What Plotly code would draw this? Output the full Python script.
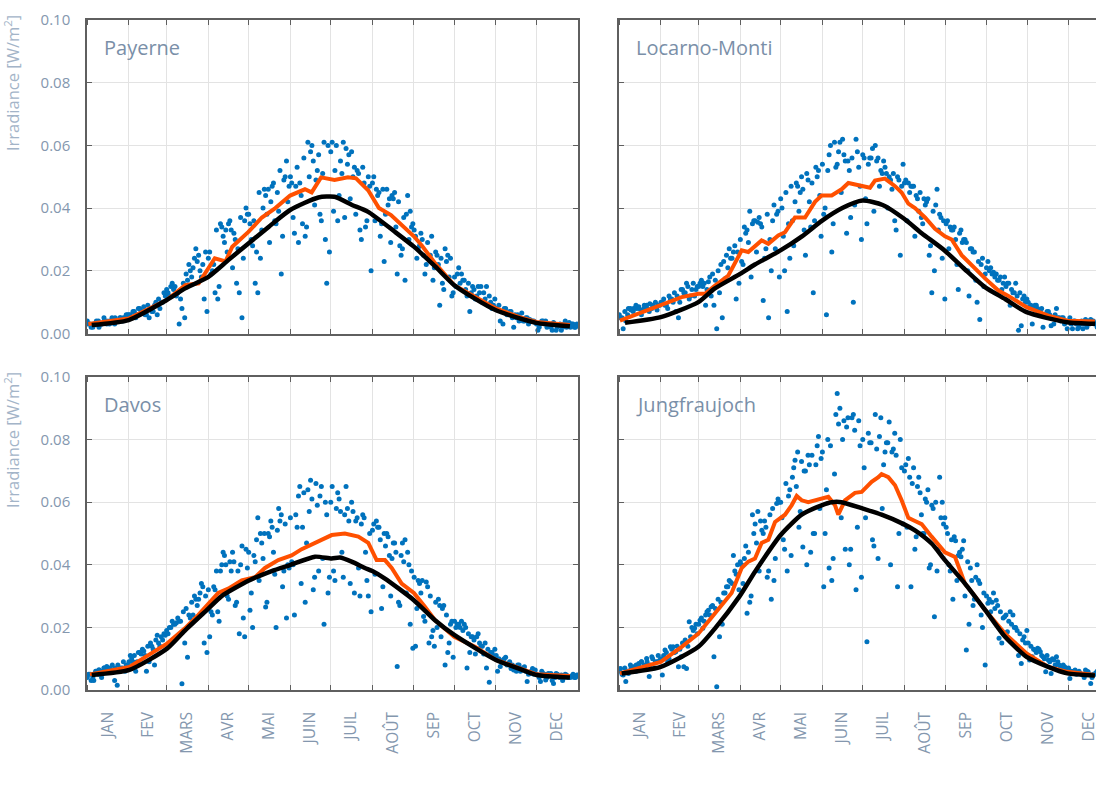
import plotly.graph_objects as go

# ---------------- data ----------------
MONTHS = ["JAN", "FEV", "MARS", "AVR", "MAI", "JUIN", "JUIL", "AOÛT", "SEP", "OCT", "NOV", "DEC"]
MONTH_DAYS = [31, 28, 31, 30, 31, 30, 31, 31, 30, 31, 30, 31]
STATIONS = ["Payerne", "Locarno-Monti", "Davos", "Jungfraujoch"]

# daily irradiance dots, grouped by month (W/m2) - two interleaved sets per station
PAY_DOTS = [
    [0.003, 0.002, 0.003, 0.004, 0.002, 0.003, 0.004, 0.003, 0.004, 0.005, 0.003, 0.004, 0.005, 0.004, 0.005, 0.006],
    [0.006, 0.007, 0.005, 0.008, 0.007, 0.0085, 0.006, 0.005, 0.007, 0.009, 0.006, 0.008, 0.010, 0.012],
    [0.013, 0.015, 0.014, 0.012, 0.003, 0.008, 0.005, 0.017, 0.020, 0.021, 0.027, 0.025, 0.018, 0.011, 0.007],
    [0.026, 0.020, 0.013, 0.011, 0.035, 0.031, 0.033, 0.035, 0.033, 0.032, 0.016, 0.013, 0.005, 0.036, 0.038],
    [0.035, 0.028, 0.016, 0.013, 0.024, 0.040, 0.044, 0.046, 0.042, 0.048, 0.035, 0.039, 0.019, 0.049, 0.055, 0.047],
    [0.048, 0.032, 0.053, 0.048, 0.035, 0.031, 0.061, 0.058, 0.055, 0.049, 0.057, 0.036, 0.061, 0.016, 0.026],
    [0.061, 0.052, 0.036, 0.055, 0.061, 0.059, 0.057, 0.058, 0.053, 0.052, 0.033, 0.053, 0.034, 0.050, 0.020],
    [0.050, 0.046, 0.045, 0.035, 0.023, 0.046, 0.043, 0.044, 0.045, 0.019, 0.028, 0.027, 0.017, 0.044, 0.039, 0.035],
    [0.031, 0.027, 0.032, 0.025, 0.022, 0.024, 0.031, 0.021, 0.025, 0.009, 0.016, 0.027, 0.025, 0.024, 0.013],
    [0.015, 0.021, 0.019, 0.017, 0.012, 0.007, 0.015, 0.011, 0.015, 0.015, 0.013, 0.015, 0.012, 0.008, 0.011],
    [0.0075, 0.004, 0.003, 0.008, 0.0065, 0.007, 0.002, 0.005, 0.004, 0.0065, 0.004, 0.005, 0.0045, 0.004, 0.0035],
    [0.001, 0.003, 0.004, 0.004, 0.003, 0.002, 0.0035, 0.001, 0.0025, 0.001, 0.003, 0.002, 0.0035, 0.003, 0.002, 0.003],
]
PAY_DOTS_B = [
    [0.004, 0.003, 0.002, 0.003, 0.004, 0.003, 0.005, 0.004, 0.003, 0.004, 0.005, 0.004, 0.005, 0.005, 0.006],
    [0.006, 0.005, 0.007, 0.006, 0.008, 0.007, 0.006, 0.009, 0.008, 0.007, 0.010, 0.011, 0.010, 0.013],
    [0.014, 0.012, 0.016, 0.015, 0.013, 0.011, 0.016, 0.019, 0.022, 0.018, 0.024, 0.023, 0.020, 0.022, 0.026],
    [0.024, 0.019, 0.022, 0.033, 0.015, 0.034, 0.029, 0.026, 0.036, 0.021, 0.030, 0.027, 0.037, 0.024, 0.040],
    [0.038, 0.030, 0.036, 0.026, 0.045, 0.033, 0.046, 0.038, 0.029, 0.047, 0.036, 0.045, 0.052, 0.031, 0.050, 0.042],
    [0.050, 0.037, 0.047, 0.029, 0.044, 0.056, 0.034, 0.050, 0.060, 0.041, 0.052, 0.038, 0.051, 0.030, 0.060],
    [0.058, 0.039, 0.060, 0.044, 0.051, 0.037, 0.054, 0.043, 0.050, 0.038, 0.051, 0.030, 0.048, 0.036, 0.047],
    [0.048, 0.036, 0.044, 0.031, 0.046, 0.038, 0.041, 0.029, 0.043, 0.034, 0.042, 0.025, 0.037, 0.038, 0.030, 0.034],
    [0.033, 0.024, 0.028, 0.030, 0.019, 0.029, 0.025, 0.017, 0.026, 0.022, 0.024, 0.014, 0.023, 0.018, 0.012],
    [0.018, 0.019, 0.016, 0.017, 0.014, 0.016, 0.013, 0.014, 0.012, 0.013, 0.010, 0.011, 0.009, 0.010, 0.009],
    [0.008, 0.009, 0.007, 0.008, 0.006, 0.007, 0.005, 0.006, 0.006, 0.005, 0.004, 0.005, 0.003, 0.004, 0.004],
    [0.003, 0.002, 0.004, 0.003, 0.002, 0.003, 0.001, 0.003, 0.002, 0.003, 0.002, 0.004, 0.003, 0.002, 0.003, 0.002],
]
LOC_DOTS = [
    [0.005, 0.0015, 0.004, 0.008, 0.0075, 0.008, 0.008, 0.0085, 0.006, 0.008, 0.009, 0.007, 0.008, 0.0085, 0.0075, 0.009],
    [0.010, 0.009, 0.008, 0.011, 0.010, 0.007, 0.005, 0.014, 0.013, 0.016, 0.011, 0.014, 0.012, 0.015],
    [0.016, 0.015, 0.009, 0.0165, 0.012, 0.009, 0.0015, 0.013, 0.005, 0.0175, 0.021, 0.024, 0.026, 0.011, 0.016],
    [0.023, 0.034, 0.033, 0.039, 0.035, 0.036, 0.0355, 0.035, 0.0105, 0.027, 0.005, 0.020, 0.041, 0.038, 0.018],
    [0.040, 0.020, 0.007, 0.024, 0.036, 0.042, 0.047, 0.045, 0.046, 0.025, 0.049, 0.034, 0.013, 0.053, 0.052, 0.031],
    [0.038, 0.006, 0.057, 0.026, 0.061, 0.054, 0.061, 0.062, 0.055, 0.055, 0.037, 0.010, 0.062, 0.053, 0.030],
    [0.056, 0.035, 0.056, 0.059, 0.060, 0.056, 0.052, 0.055, 0.051, 0.050, 0.046, 0.036, 0.050, 0.025, 0.054],
    [0.049, 0.048, 0.047, 0.047, 0.044, 0.039, 0.037, 0.043, 0.042, 0.025, 0.013, 0.020, 0.046, 0.038, 0.024, 0.011],
    [0.036, 0.034, 0.033, 0.030, 0.014, 0.033, 0.030, 0.029, 0.012, 0.027, 0.026, 0.010, 0.0045, 0.024, 0.019],
    [0.023, 0.021, 0.0195, 0.019, 0.017, 0.014, 0.018, 0.016, 0.009, 0.013, 0.016, 0.001, 0.0025, 0.012, 0.011],
    [0.0085, 0.003, 0.009, 0.008, 0.007, 0.002, 0.006, 0.007, 0.0025, 0.003, 0.008, 0.005, 0.005, 0.003, 0.0015],
    [0.005, 0.0015, 0.004, 0.0015, 0.003, 0.0015, 0.0045, 0.004, 0.0045, 0.004, 0.003, 0.004, 0.0035, 0.003, 0.004, 0.0035],
]
LOC_DOTS_B = [
    [0.006, 0.005, 0.007, 0.006, 0.008, 0.007, 0.009, 0.008, 0.0075, 0.009, 0.008, 0.0095, 0.009, 0.010, 0.009],
    [0.010, 0.011, 0.009, 0.012, 0.011, 0.013, 0.012, 0.010, 0.014, 0.013, 0.015, 0.012, 0.016, 0.014],
    [0.015, 0.017, 0.016, 0.014, 0.018, 0.019, 0.017, 0.020, 0.022, 0.023, 0.025, 0.027, 0.024, 0.028, 0.026],
    [0.030, 0.022, 0.032, 0.029, 0.018, 0.036, 0.026, 0.037, 0.034, 0.024, 0.038, 0.030, 0.036, 0.027, 0.039],
    [0.043, 0.031, 0.045, 0.035, 0.047, 0.028, 0.048, 0.039, 0.050, 0.033, 0.051, 0.042, 0.048, 0.036, 0.050, 0.044],
    [0.054, 0.040, 0.052, 0.060, 0.035, 0.053, 0.058, 0.045, 0.057, 0.032, 0.052, 0.056, 0.041, 0.058, 0.047],
    [0.057, 0.043, 0.054, 0.056, 0.039, 0.055, 0.047, 0.051, 0.053, 0.040, 0.049, 0.051, 0.033, 0.049, 0.047],
    [0.048, 0.036, 0.045, 0.047, 0.031, 0.043, 0.045, 0.035, 0.041, 0.043, 0.028, 0.039, 0.041, 0.033, 0.037, 0.036],
    [0.035, 0.027, 0.033, 0.034, 0.022, 0.032, 0.029, 0.030, 0.020, 0.027, 0.026, 0.017, 0.023, 0.022, 0.015],
    [0.021, 0.020, 0.019, 0.018, 0.017, 0.018, 0.016, 0.015, 0.016, 0.014, 0.013, 0.012, 0.013, 0.011, 0.010],
    [0.010, 0.009, 0.008, 0.009, 0.007, 0.008, 0.006, 0.007, 0.006, 0.005, 0.006, 0.005, 0.004, 0.005, 0.004],
    [0.004, 0.003, 0.004, 0.003, 0.002, 0.004, 0.003, 0.002, 0.003, 0.004, 0.003, 0.002, 0.004, 0.003, 0.003, 0.002],
]
DAV_DOTS = [
    [0.005, 0.003, 0.003, 0.006, 0.0065, 0.004, 0.007, 0.0075, 0.0065, 0.0065, 0.003, 0.0015, 0.006, 0.007, 0.006, 0.008],
    [0.011, 0.009, 0.006, 0.012, 0.0115, 0.0125, 0.006, 0.009, 0.014, 0.008, 0.0175, 0.014, 0.016, 0.0175],
    [0.018, 0.020, 0.021, 0.0215, 0.022, 0.002, 0.015, 0.0105, 0.023, 0.024, 0.029, 0.029, 0.034, 0.015, 0.012],
    [0.017, 0.024, 0.032, 0.025, 0.038, 0.044, 0.040, 0.029, 0.038, 0.041, 0.028, 0.018, 0.046, 0.017, 0.039],
    [0.0255, 0.020, 0.041, 0.055, 0.050, 0.042, 0.0265, 0.050, 0.054, 0.044, 0.020, 0.058, 0.056, 0.038, 0.023, 0.039],
    [0.041, 0.024, 0.052, 0.065, 0.052, 0.028, 0.064, 0.067, 0.032, 0.066, 0.038, 0.065, 0.021, 0.056, 0.036],
    [0.065, 0.035, 0.063, 0.057, 0.036, 0.065, 0.054, 0.060, 0.031, 0.055, 0.030, 0.056, 0.044, 0.030, 0.025],
    [0.053, 0.054, 0.052, 0.026, 0.050, 0.050, 0.043, 0.042, 0.047, 0.0075, 0.027, 0.047, 0.048, 0.044, 0.021, 0.0133],
    [0.014, 0.035, 0.031, 0.0235, 0.0345, 0.015, 0.017, 0.014, 0.020, 0.027, 0.026, 0.008, 0.012, 0.021, 0.0105],
    [0.020, 0.021, 0.022, 0.021, 0.007, 0.012, 0.017, 0.0115, 0.018, 0.014, 0.0115, 0.007, 0.0025, 0.012, 0.013],
    [0.006, 0.0075, 0.0095, 0.0105, 0.0085, 0.0069, 0.0064, 0.006, 0.008, 0.0064, 0.0074, 0.0027, 0.0053, 0.0069, 0.0064],
    [0.0048, 0.0027, 0.0053, 0.0032, 0.0053, 0.0053, 0.0021, 0.0053, 0.0043, 0.0048, 0.004, 0.0048, 0.0043, 0.0045, 0.004, 0.0048],
]
DAV_DOTS_B = [
    [0.004, 0.005, 0.004, 0.006, 0.005, 0.006, 0.007, 0.006, 0.007, 0.008, 0.007, 0.008, 0.007, 0.009, 0.008],
    [0.009, 0.010, 0.011, 0.009, 0.012, 0.013, 0.011, 0.014, 0.015, 0.013, 0.016, 0.015, 0.017, 0.018],
    [0.019, 0.020, 0.022, 0.021, 0.023, 0.022, 0.025, 0.026, 0.024, 0.028, 0.030, 0.027, 0.031, 0.033, 0.030],
    [0.032, 0.025, 0.033, 0.038, 0.022, 0.040, 0.043, 0.030, 0.041, 0.044, 0.027, 0.038, 0.040, 0.023, 0.045],
    [0.044, 0.031, 0.043, 0.048, 0.035, 0.047, 0.050, 0.028, 0.049, 0.052, 0.037, 0.051, 0.054, 0.033, 0.053, 0.040],
    [0.055, 0.040, 0.056, 0.062, 0.034, 0.063, 0.047, 0.057, 0.061, 0.036, 0.059, 0.062, 0.042, 0.060, 0.031],
    [0.060, 0.038, 0.058, 0.061, 0.044, 0.056, 0.058, 0.034, 0.057, 0.054, 0.039, 0.053, 0.055, 0.035, 0.050],
    [0.051, 0.037, 0.052, 0.048, 0.033, 0.046, 0.049, 0.030, 0.047, 0.044, 0.028, 0.043, 0.041, 0.031, 0.040, 0.038],
    [0.036, 0.026, 0.034, 0.035, 0.022, 0.033, 0.030, 0.019, 0.028, 0.029, 0.017, 0.027, 0.024, 0.015, 0.022],
    [0.022, 0.021, 0.020, 0.019, 0.020, 0.018, 0.017, 0.016, 0.017, 0.015, 0.014, 0.015, 0.013, 0.012, 0.011],
    [0.011, 0.010, 0.009, 0.010, 0.008, 0.009, 0.008, 0.007, 0.008, 0.006, 0.007, 0.006, 0.005, 0.006, 0.005],
    [0.005, 0.004, 0.006, 0.005, 0.004, 0.005, 0.003, 0.004, 0.005, 0.004, 0.003, 0.005, 0.004, 0.004, 0.005, 0.004],
]
JUN_DOTS = [
    [0.0069, 0.0048, 0.0027, 0.0053, 0.0069, 0.0074, 0.008, 0.0085, 0.009, 0.008, 0.0101, 0.0043, 0.0106, 0.007, 0.009, 0.0095],
    [0.0048, 0.0128, 0.009, 0.0138, 0.0138, 0.0122, 0.0074, 0.0106, 0.0074, 0.0069, 0.0218, 0.020, 0.0197, 0.018],
    [0.0223, 0.0197, 0.024, 0.0255, 0.0266, 0.0106, 0.001, 0.017, 0.021, 0.031, 0.033, 0.0345, 0.043, 0.037, 0.032],
    [0.040, 0.042, 0.0245, 0.028, 0.056, 0.053, 0.057, 0.054, 0.050, 0.052, 0.038, 0.029, 0.035, 0.0596, 0.060],
    [0.055, 0.045, 0.038, 0.064, 0.068, 0.0734, 0.076, 0.057, 0.0457, 0.070, 0.075, 0.044, 0.050, 0.072, 0.081, 0.074],
    [0.033, 0.064, 0.039, 0.035, 0.069, 0.0947, 0.090, 0.080, 0.045, 0.087, 0.045, 0.088, 0.032, 0.086, 0.036],
    [0.071, 0.0154, 0.079, 0.048, 0.088, 0.042, 0.087, 0.072, 0.079, 0.0856, 0.076, 0.082, 0.033, 0.080, 0.053],
    [0.072, 0.074, 0.033, 0.071, 0.049, 0.068, 0.056, 0.050, 0.060, 0.039, 0.059, 0.0234, 0.038, 0.068, 0.060, 0.055],
    [0.050, 0.038, 0.029, 0.0477, 0.043, 0.0426, 0.0477, 0.0128, 0.021, 0.035, 0.029, 0.040, 0.034, 0.020, 0.008],
    [0.0277, 0.025, 0.031, 0.0287, 0.0165, 0.015, 0.0234, 0.0186, 0.025, 0.024, 0.020, 0.011, 0.0085, 0.017, 0.019],
    [0.0096, 0.0106, 0.0128, 0.0133, 0.0122, 0.0106, 0.0058, 0.0096, 0.0053, 0.0096, 0.0106, 0.008, 0.0069, 0.0074, 0.0064],
    [0.0037, 0.0058, 0.0064, 0.0053, 0.0053, 0.0048, 0.0064, 0.0058, 0.0021, 0.005, 0.0055, 0.005, 0.0045, 0.005, 0.0048, 0.0045],
]
JUN_DOTS_B = [
    [0.006, 0.005, 0.007, 0.006, 0.008, 0.007, 0.006, 0.008, 0.009, 0.007, 0.009, 0.008, 0.010, 0.009, 0.011],
    [0.010, 0.011, 0.012, 0.010, 0.013, 0.012, 0.014, 0.013, 0.015, 0.016, 0.014, 0.017, 0.019, 0.021],
    [0.021, 0.023, 0.022, 0.025, 0.024, 0.027, 0.026, 0.029, 0.028, 0.031, 0.033, 0.035, 0.034, 0.038, 0.040],
    [0.041, 0.034, 0.046, 0.044, 0.030, 0.050, 0.047, 0.038, 0.051, 0.054, 0.036, 0.056, 0.058, 0.042, 0.061],
    [0.060, 0.048, 0.066, 0.062, 0.043, 0.071, 0.065, 0.052, 0.073, 0.070, 0.040, 0.072, 0.075, 0.050, 0.078, 0.058],
    [0.076, 0.050, 0.080, 0.078, 0.042, 0.088, 0.085, 0.055, 0.086, 0.084, 0.040, 0.087, 0.083, 0.052, 0.078],
    [0.080, 0.055, 0.082, 0.079, 0.046, 0.077, 0.081, 0.058, 0.076, 0.079, 0.040, 0.077, 0.075, 0.050, 0.071],
    [0.070, 0.052, 0.068, 0.066, 0.045, 0.065, 0.063, 0.050, 0.061, 0.064, 0.040, 0.058, 0.060, 0.045, 0.055, 0.053],
    [0.052, 0.040, 0.048, 0.049, 0.035, 0.044, 0.045, 0.030, 0.041, 0.039, 0.027, 0.036, 0.035, 0.024, 0.031],
    [0.030, 0.029, 0.028, 0.026, 0.027, 0.025, 0.023, 0.024, 0.022, 0.021, 0.020, 0.019, 0.018, 0.016, 0.015],
    [0.015, 0.014, 0.013, 0.012, 0.013, 0.011, 0.010, 0.011, 0.009, 0.010, 0.008, 0.009, 0.007, 0.008, 0.007],
    [0.007, 0.006, 0.006, 0.005, 0.006, 0.005, 0.004, 0.006, 0.005, 0.004, 0.005, 0.006, 0.004, 0.005, 0.005, 0.004],
]

# running mean (orange) : day of year / value
PAY_OR_DAY = [1, 31, 59, 73, 83, 95, 103, 108, 120, 130, 140, 151, 162, 167, 174, 184, 194, 200, 209, 217, 226, 243, 249, 259, 273, 288, 304, 321, 334, 359]
PAY_OR_VAL = [0.003, 0.0048, 0.0106, 0.0154, 0.016, 0.024, 0.023, 0.0277, 0.0324, 0.037, 0.040, 0.044, 0.046, 0.045, 0.0498, 0.049, 0.0498, 0.0495, 0.0457, 0.040, 0.0378, 0.031, 0.028, 0.0223, 0.0154, 0.0117, 0.008, 0.0053, 0.0037, 0.0027]
LOC_OR_DAY = [0.7, 16.8, 31, 46.6, 59, 63.9, 71.4, 81.3, 91.2, 96.1, 106, 111, 118.4, 123.4, 130.8, 138.3, 145.7, 150.6, 158.1, 165.5, 170.5, 180.4, 186.6, 190.3, 197.7, 205.2, 210.1, 215.1, 220, 227.5, 234.9, 242.3, 247.3, 254.7, 264.6, 272.3, 282, 289.4, 303, 319.1, 333.3, 353.8]
LOC_OR_VAL = [0.0041, 0.0068, 0.0089, 0.0116, 0.0127, 0.0127, 0.0153, 0.0185, 0.0265, 0.026, 0.0297, 0.0286, 0.0313, 0.0323, 0.037, 0.037, 0.042, 0.044, 0.044, 0.046, 0.048, 0.047, 0.0465, 0.0488, 0.0494, 0.047, 0.045, 0.0414, 0.040, 0.037, 0.0334, 0.031, 0.030, 0.025, 0.0206, 0.0175, 0.0137, 0.012, 0.0084, 0.0057, 0.0041, 0.0038]
DAV_OR_DAY = [2.2, 31.5, 59.7, 72.8, 82.8, 92.7, 97.6, 105, 115, 124.9, 132.3, 142.2, 152.1, 159.6, 169.5, 181.9, 191.7, 201.7, 209.1, 215.3, 221.5, 226.5, 233.9, 243, 251.2, 258.7, 273, 288.4, 304, 320.6, 334.2, 359]
DAV_OR_VAL = [0.005, 0.0074, 0.0149, 0.0197, 0.024, 0.029, 0.031, 0.0324, 0.035, 0.036, 0.039, 0.0415, 0.043, 0.045, 0.047, 0.0495, 0.050, 0.049, 0.047, 0.0415, 0.0415, 0.039, 0.034, 0.031, 0.0266, 0.0223, 0.017, 0.0138, 0.0096, 0.0069, 0.005, 0.0045]
JUN_OR_DAY = [0.7, 16.8, 31, 46.6, 59, 71.4, 83.7, 91.2, 96.1, 101.1, 106, 111, 116, 123.4, 128.3, 132.1, 135.8, 140.7, 145.7, 150.6, 155.6, 160.6, 163, 168, 175.4, 180.4, 187.8, 192.8, 195.2, 200.2, 205.2, 210.1, 215.1, 220, 225, 232.4, 242.3, 249.8, 257.2, 264.6, 272.3, 287, 303, 319.1, 333.3, 353.8]
JUN_OR_VAL = [0.0053, 0.0074, 0.009, 0.0138, 0.018, 0.0245, 0.031, 0.039, 0.041, 0.042, 0.047, 0.048, 0.0537, 0.056, 0.059, 0.062, 0.0606, 0.060, 0.0606, 0.061, 0.0617, 0.059, 0.056, 0.0606, 0.063, 0.0633, 0.0665, 0.068, 0.069, 0.068, 0.0654, 0.0606, 0.055, 0.054, 0.053, 0.049, 0.044, 0.0425, 0.034, 0.030, 0.0255, 0.018, 0.0117, 0.0074, 0.0058, 0.0048]

# climatology (black) : day of year / value
PAY_BK_DAY = [3.5, 31, 59, 73, 90, 105, 120, 135, 151, 172, 184, 197, 209, 229, 243, 259, 273, 288, 304, 318, 334, 359]
PAY_BK_VAL = [0.0027, 0.0043, 0.0106, 0.0144, 0.018, 0.0234, 0.0287, 0.034, 0.0394, 0.0434, 0.0436, 0.041, 0.0388, 0.0324, 0.0277, 0.0213, 0.0154, 0.0112, 0.0074, 0.0053, 0.0034, 0.0023]
LOC_BK_DAY = [4.5, 31, 59, 71, 90, 101, 120, 136, 151, 166, 181, 196, 212, 225, 242, 257, 272, 287, 303, 333, 354]
LOC_BK_VAL = [0.0034, 0.0052, 0.010, 0.0143, 0.019, 0.022, 0.0265, 0.031, 0.036, 0.040, 0.0424, 0.041, 0.0366, 0.032, 0.0265, 0.0205, 0.0148, 0.011, 0.0068, 0.0036, 0.0031]
DAV_BK_DAY = [3.5, 31.5, 59.7, 72.8, 90.2, 100.1, 120.4, 137.3, 151.4, 169.5, 181.9, 188, 196.7, 206.6, 212.1, 221.5, 243, 258.7, 273, 304, 320.6, 334.2, 359]
DAV_BK_VAL = [0.0048, 0.0064, 0.0133, 0.019, 0.026, 0.030, 0.035, 0.038, 0.040, 0.0426, 0.042, 0.0423, 0.041, 0.039, 0.038, 0.0356, 0.0287, 0.0223, 0.0176, 0.0096, 0.0069, 0.0048, 0.004]
JUN_BK_DAY = [2, 31, 59, 71.4, 89.7, 101.1, 120.2, 135.8, 150.6, 158.1, 165.5, 180.9, 195.2, 211.6, 220, 232.4, 242.3, 257.2, 272.3, 287, 303, 319.1, 333.3, 353.8]
JUN_BK_VAL = [0.0053, 0.0074, 0.0138, 0.0197, 0.030, 0.0378, 0.0495, 0.056, 0.059, 0.060, 0.060, 0.058, 0.056, 0.053, 0.051, 0.0468, 0.0415, 0.034, 0.0255, 0.017, 0.0106, 0.0074, 0.0053, 0.0046]

Y_TICKS = [0.0, 0.02, 0.04, 0.06, 0.08, 0.10]

# ---------------- styling ----------------
FONT = "Open Sans"
AX = "#5f5f5f"
GRID = "#e3e3e3"
TICKC = "#8497ae"
TITLEC = "#7a8fa8"
YTITLEC = "#a3b4c8"
BLUE = "#0072BD"
ORANGE = "#FF5000"

MONTH_START = [sum(MONTH_DAYS[:i]) for i in range(12)]
BOUNDS = MONTH_START + [365]
MIDS = [MONTH_START[i] + MONTH_DAYS[i] / 2 for i in range(12)]


def dot_positions(dots, offset):
    xs, ys = [], []
    for m, vals in enumerate(dots):
        n = len(vals)
        for k, v in enumerate(vals):
            xs.append(MONTH_START[m] + (k + offset) * MONTH_DAYS[m] / n)
            ys.append(v)
    return xs, ys


panels = [
    (STATIONS[0], PAY_DOTS, PAY_DOTS_B, PAY_OR_DAY, PAY_OR_VAL, PAY_BK_DAY, PAY_BK_VAL),
    (STATIONS[1], LOC_DOTS, LOC_DOTS_B, LOC_OR_DAY, LOC_OR_VAL, LOC_BK_DAY, LOC_BK_VAL),
    (STATIONS[2], DAV_DOTS, DAV_DOTS_B, DAV_OR_DAY, DAV_OR_VAL, DAV_BK_DAY, DAV_BK_VAL),
    (STATIONS[3], JUN_DOTS, JUN_DOTS_B, JUN_OR_DAY, JUN_OR_VAL, JUN_BK_DAY, JUN_BK_VAL),
]

W, H = 1096, 785
ML, MR, MT, MB = 87, 0, 20, 95
PW, PH = W - ML - MR, H - MT - MB
X_DOM = [[0, 491 / PW], [532 / PW, 1.0]]
Y_DOM = [[(690 - 333.5) / PH, 1.0], [0, (690 - 377) / PH]]

fig = go.Figure()
layout = {}
for i, (name, dots, dots_b, od, ov, bd, bv) in enumerate(panels):
    row, col = divmod(i, 2)
    sx = "" if i == 0 else str(i + 1)
    xa, ya = "x" + sx, "y" + sx
    ax_, ay_ = dot_positions(dots, 0.6)
    bx_, by_ = dot_positions(dots_b, 0.1)
    fig.add_trace(go.Scatter(x=ax_ + bx_, y=ay_ + by_, mode="markers", xaxis=xa, yaxis=ya,
                             marker=dict(color=BLUE, size=5, line=dict(width=0)), showlegend=False))
    fig.add_trace(go.Scatter(x=od, y=ov, mode="lines", xaxis=xa, yaxis=ya,
                             line=dict(color=ORANGE, width=4), showlegend=False))
    fig.add_trace(go.Scatter(x=bd, y=bv, mode="lines", xaxis=xa, yaxis=ya,
                             line=dict(color="black", width=4.5, shape="spline", smoothing=0.6), showlegend=False))

    xr = [0, 365] if col == 0 else [0, 365 * (W - ML - 532) / 491]
    layout["xaxis" + sx] = dict(
        domain=X_DOM[col], anchor=ya, range=xr,
        tickmode="array", tickvals=MIDS, ticktext=MONTHS, ticks="",
        showticklabels=(row == 1), tickangle=-90, ticklabelstandoff=14,
        ticklabeloverflow="allow",
        tickfont=dict(family=FONT, size=15.5, color=TICKC),
        showgrid=False, zeroline=False,
        showline=True, linecolor=AX, linewidth=1.5, mirror="ticks",
        minor=dict(tickmode="array", tickvals=BOUNDS, ticks="inside", ticklen=5,
                   tickcolor=AX, tickwidth=1, showgrid=True, gridcolor=GRID, gridwidth=1),
    )
    layout["yaxis" + sx] = dict(
        domain=Y_DOM[row], anchor=xa, range=[0, 0.1],
        tickmode="array", tickvals=Y_TICKS, tickformat=".2f",
        ticks="inside", ticklen=5, tickcolor=AX, tickwidth=1,
        showticklabels=(col == 0), ticklabelstandoff=12,
        tickfont=dict(family=FONT, size=15, color=TICKC),
        showgrid=True, gridcolor=GRID, gridwidth=1, zeroline=False,
        showline=True, linecolor=AX, linewidth=1.5,
        mirror="ticks" if col == 0 else False,
    )

annotations = []
for i, (name, *_rest) in enumerate(panels):
    sx = "" if i == 0 else str(i + 1)
    annotations.append(dict(
        text=name, xref="x" + sx + " domain", yref="y" + sx + " domain",
        x=0, y=1, xanchor="left", yanchor="top", xshift=15, yshift=-12, showarrow=False,
        font=dict(family=FONT, size=20, color=TITLEC)))
for row in range(2):
    annotations.append(dict(
        text="Irradiance [W/m<sup>2</sup>]", textangle=-90, xref="paper", yref="paper",
        x=0, y=Y_DOM[row][1], xanchor="right", yanchor="top", xshift=-61, yshift=7,
        showarrow=False, font=dict(family=FONT, size=16.5, color=YTITLEC)))

fig.update_layout(
    width=W, height=H, margin=dict(l=ML, r=MR, t=MT, b=MB, autoexpand=False),
    paper_bgcolor="white", plot_bgcolor="white", showlegend=False,
    annotations=annotations, **layout,
)
fig.write_html(
    "out.html",
    default_width="1096px", default_height="785px",
    config={"displayModeBar": False},
    post_script=(
        "document.documentElement.style.margin='0';"
        "document.body.style.margin='0';document.body.style.padding='0';"
        "document.body.style.overflow='hidden';"
        "var gd=document.getElementById('{plot_id}');"
        "Plotly.relayout(gd,{width:1096,height:785});"
    ),
)
